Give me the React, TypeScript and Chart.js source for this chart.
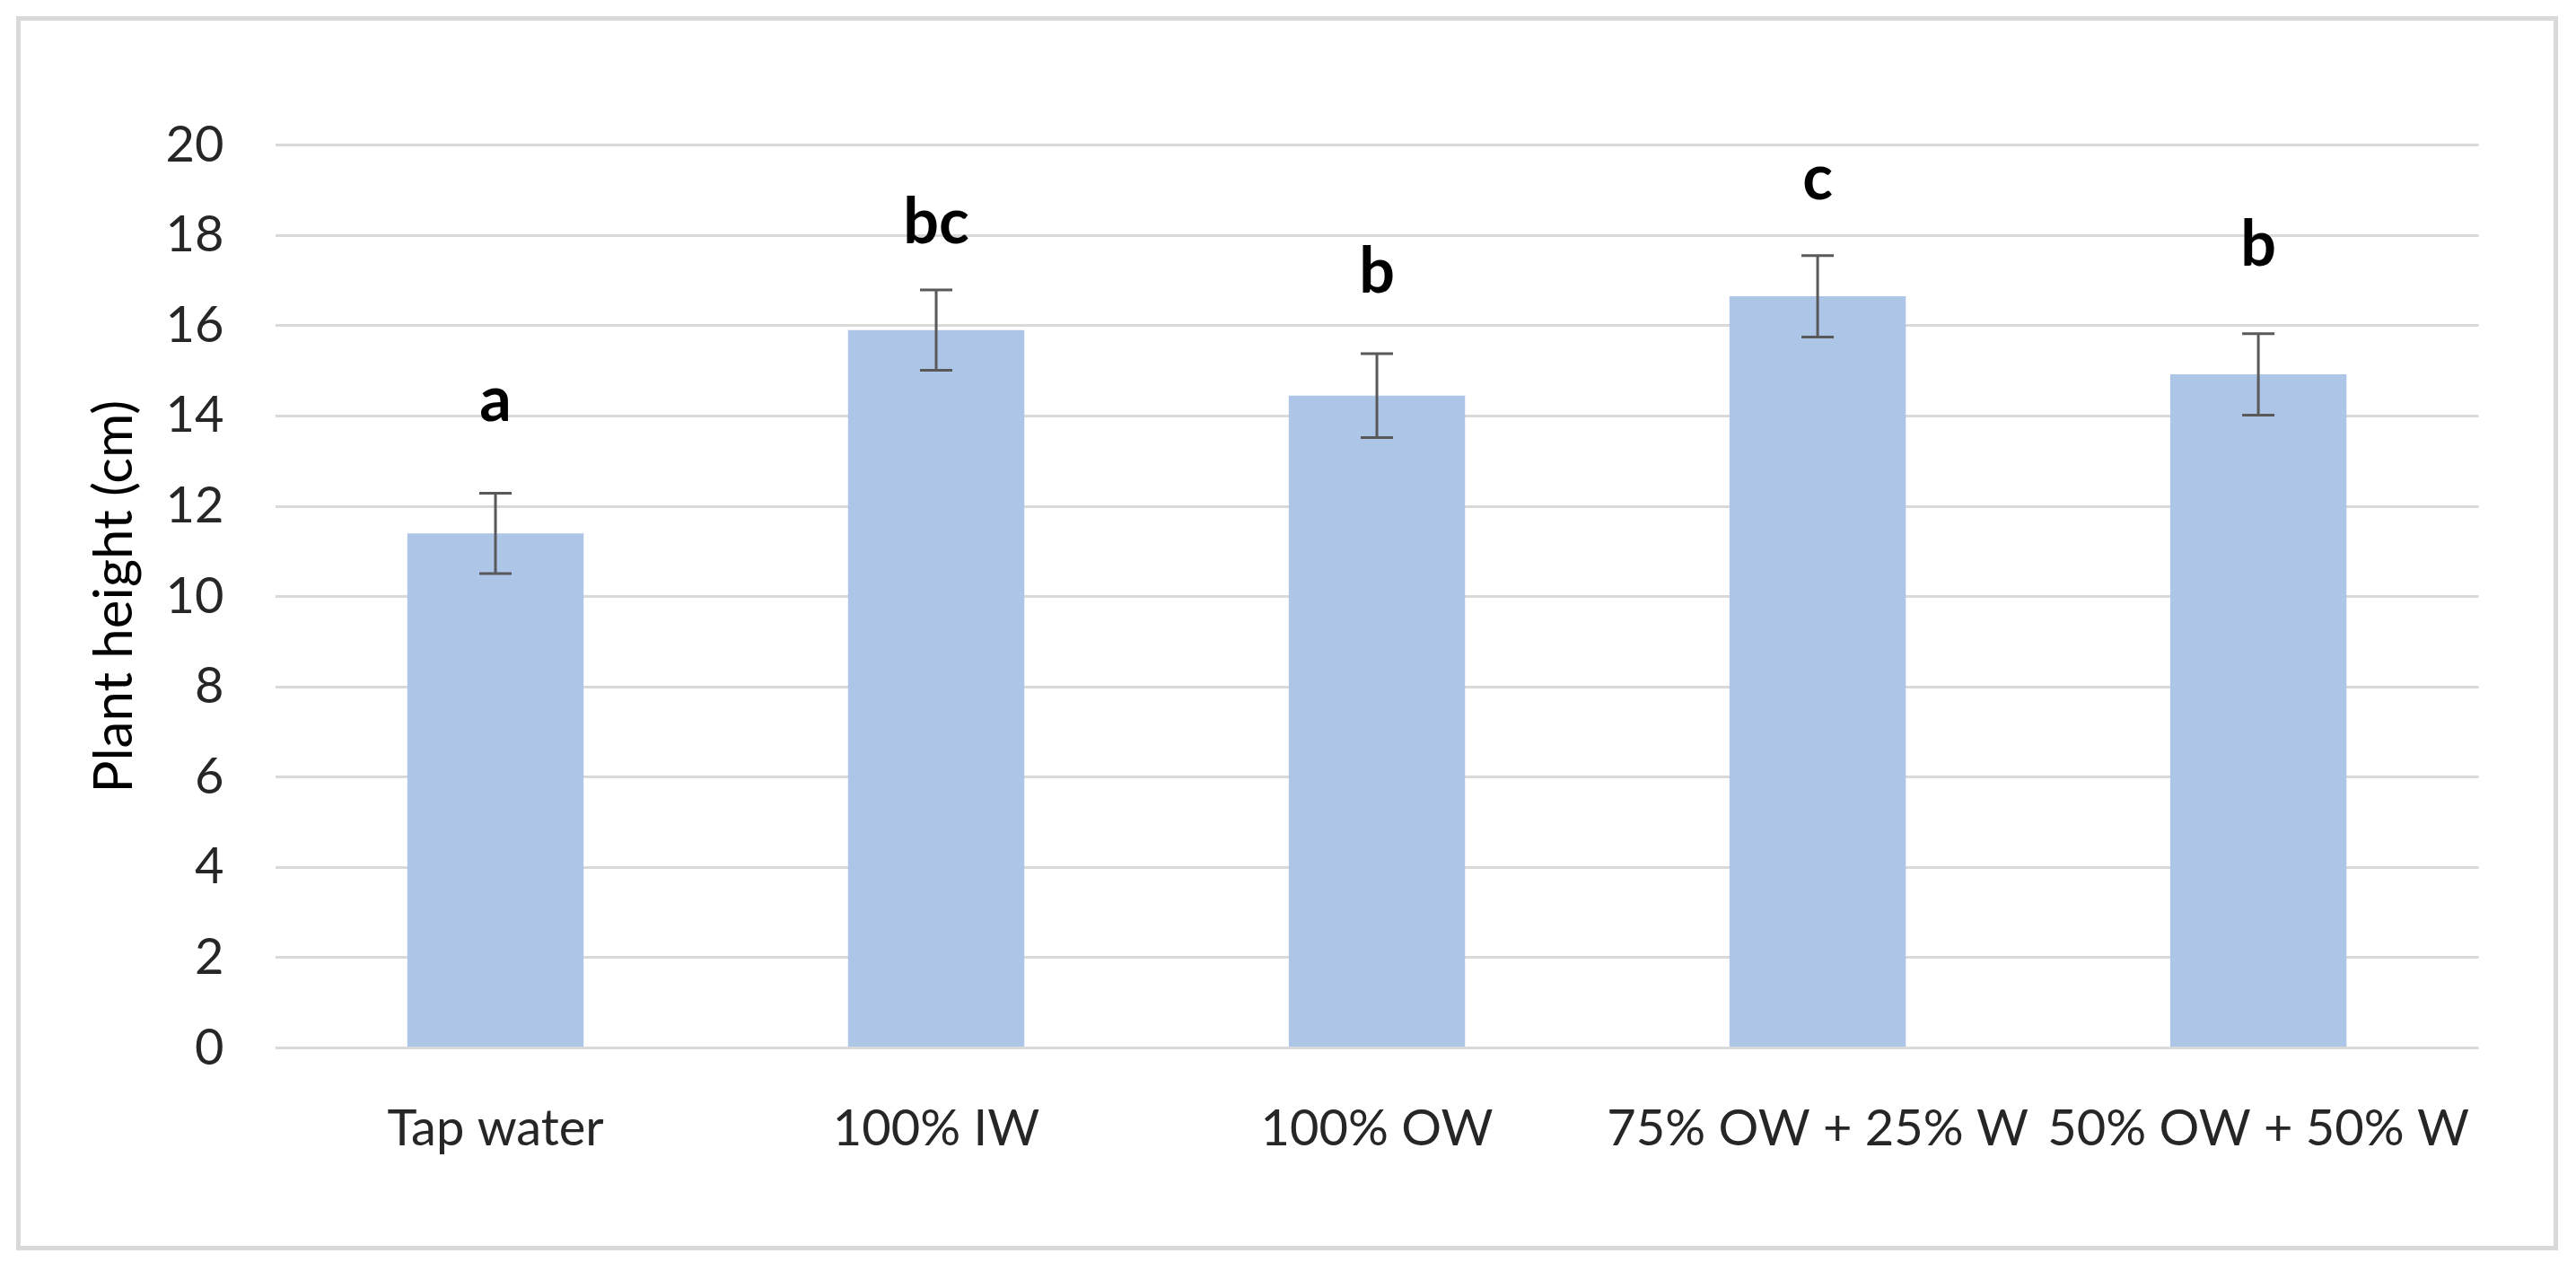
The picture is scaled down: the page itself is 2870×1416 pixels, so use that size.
import React, { useEffect, useRef } from "react";
import { Chart, registerables } from "chart.js";

Chart.register(...registerables);

const categories = ["Tap water", "100% IW", "100% OW", "75% OW + 25% W", "50% OW + 50% W"];
const heights = [11.4, 15.9, 14.45, 16.65, 14.92];
const errors = [0.89, 0.89, 0.93, 0.9, 0.9];
const letters = ["a", "bc", "b", "c", "b"];
const letterBaseline = [13.88, 17.82, 16.73, 18.8, 17.33];
const yTicks = [0, 2, 4, 6, 8, 10, 12, 14, 16, 18, 20];

const FONT = "Lato, 'Open Sans', 'DejaVu Sans', sans-serif";

const framePlugin = {
  id: "frame",
  beforeDraw(chart: any) {
    const ctx = chart.ctx;
    ctx.save();
    ctx.fillStyle = "#ffffff";
    ctx.fillRect(0, 0, chart.width, chart.height);
    ctx.strokeStyle = "#d9d9d9";
    ctx.lineWidth = 5;
    ctx.strokeRect(20.5, 20.5, 2827, 1370);
    ctx.restore();
  },
};

const errorPlugin = {
  id: "errbars",
  afterDatasetsDraw(chart: any) {
    const ctx = chart.ctx;
    const meta = chart.getDatasetMeta(0);
    const y = chart.scales.y;
    ctx.save();
    ctx.strokeStyle = "#595959";
    ctx.lineWidth = 3;
    meta.data.forEach((bar: any, i: number) => {
      const x = bar.x;
      const top = y.getPixelForValue(heights[i] + errors[i]);
      const bot = y.getPixelForValue(heights[i] - errors[i]);
      ctx.beginPath();
      ctx.moveTo(x, top);
      ctx.lineTo(x, bot);
      ctx.moveTo(x - 18, top);
      ctx.lineTo(x + 18, top);
      ctx.moveTo(x - 18, bot);
      ctx.lineTo(x + 18, bot);
      ctx.stroke();
    });
    ctx.fillStyle = "#000000";
    ctx.font = `bold 70px ${FONT}`;
    ctx.textAlign = "center";
    ctx.textBaseline = "alphabetic";
    meta.data.forEach((bar: any, i: number) => {
      ctx.fillText(letters[i], bar.x, y.getPixelForValue(letterBaseline[i]));
    });
    ctx.restore();
  },
};

export default function App() {
  const ref = useRef<HTMLCanvasElement>(null);
  useEffect(() => {
    document.body.style.margin = "0";
    const canvas = ref.current!;
    const chart = new Chart(canvas, {
      type: "bar",
      data: {
        labels: categories,
        datasets: [
          {
            data: heights,
            backgroundColor: "#adc6e8",
            borderWidth: 0,
            categoryPercentage: 1,
            barPercentage: 0.4,
          },
        ],
      },
      options: {
        responsive: false,
        animation: false,
        devicePixelRatio: 1,
        layout: { padding: { left: 0, top: 161.6, right: 108.4, bottom: 98.4 } },
        plugins: { legend: { display: false }, tooltip: { enabled: false } },
        scales: {
          x: {
            grid: { display: false },
            border: { display: false },
            ticks: {
              font: { family: FONT, size: 56 },
              color: "#262626",
              padding: 49,
              maxRotation: 0,
              autoSkip: false,
            },
            afterFit(scale: any) {
              scale.height = 150;
            },
          },
          y: {
            min: 0,
            max: 20,
            afterBuildTicks(scale: any) {
              scale.ticks = yTicks.map((v) => ({ value: v }));
            },
            grid: { color: "#d9d9d9", lineWidth: 3, drawTicks: false },
            border: { display: false },
            ticks: {
              font: { family: FONT, size: 56 },
              color: "#262626",
              padding: 57,
            },
            title: {
              display: true,
              text: "Plant height (cm)",
              font: { family: FONT, size: 60 },
              color: "#000000",
              padding: { top: 92, bottom: 0 },
            },
            afterFit(scale: any) {
              scale.width = 306.5;
            },
          },
        },
      },
      plugins: [framePlugin, errorPlugin],
    });
    return () => chart.destroy();
  }, []);
  return <canvas ref={ref} width={2870} height={1416} style={{ display: "block" }} />;
}
